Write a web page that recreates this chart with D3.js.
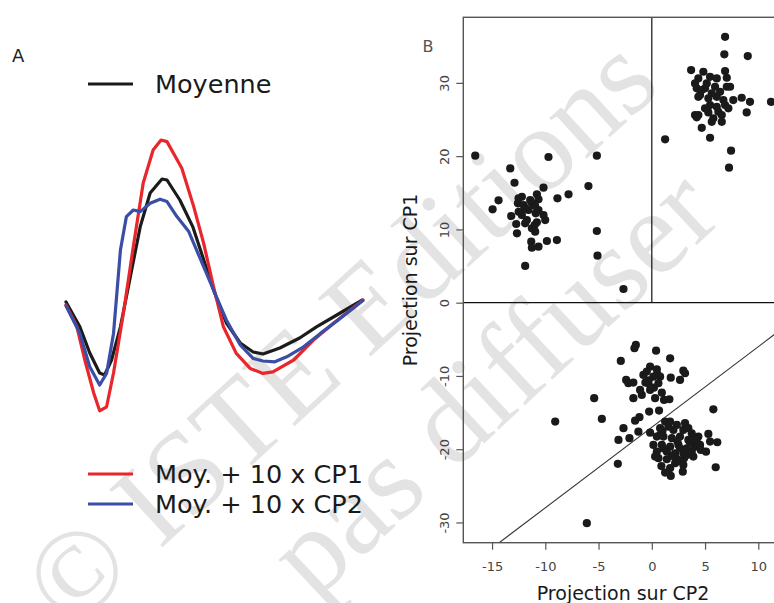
<!DOCTYPE html>
<html>
<head>
<meta charset="utf-8">
<script src="https://cdn.jsdelivr.net/npm/d3@7/dist/d3.min.js"></script>
<style>
  html, body { margin: 0; padding: 0; background: #fff; }
  svg { display: block; }
</style>
</head>
<body>
<svg id="fig" width="774" height="603"></svg>
<script>
// ---- Panel A: mean spike waveform and mean + 10 x principal components ----
const meanT = [0, 1.4, 2.4, 3.4, 3.9, 4.6, 5.5, 6.5, 7.5, 8.5, 9.7, 10.2, 11.5, 12.8, 13.8, 14.9, 16.2, 17.6, 18.9, 19.9, 21.6, 23.6, 25.3, 27.7, 29.9];
const meanV = [0.0, -1.24, -2.55, -3.55, -3.65, -2.9, -1.24, 1.27, 3.77, 5.45, 6.15, 6.1, 5.1, 3.77, 2.27, 0.6, -1.05, -2.05, -2.5, -2.6, -2.3, -1.8, -1.24, -0.55, 0.1];

const cp1T = [0, 1.1, 1.9, 2.8, 3.4, 4.1, 4.8, 5.8, 6.8, 7.8, 8.8, 9.6, 10.2, 11.7, 12.9, 13.9, 14.9, 15.9, 17.2, 18.6, 19.9, 20.9, 23.0, 25.0, 27.0, 28.7, 30.0];
const cp1V = [-0.15, -1.24, -2.9, -4.55, -5.44, -5.24, -3.55, -0.55, 2.77, 5.95, 7.6, 8.1, 8.02, 6.69, 4.77, 2.94, 0.77, -1.24, -2.57, -3.32, -3.57, -3.49, -2.9, -1.9, -1.07, -0.4, 0.1];

const cp2T = [0, 1.4, 2.4, 3.4, 4.1, 4.8, 5.5, 6.1, 6.8, 7.5, 8.5, 9.5, 10.2, 11.2, 12.4, 13.9, 14.9, 16.2, 17.6, 18.9, 19.9, 21.1, 22.3, 24.0, 25.7, 27.7, 30.0];
const cp2V = [-0.19, -1.57, -3.24, -4.15, -3.57, -1.57, 2.6, 4.27, 4.6, 4.52, 4.94, 5.14, 5.02, 4.27, 3.52, 1.77, 0.6, -0.9, -2.15, -2.82, -2.95, -2.99, -2.74, -2.24, -1.57, -0.82, 0.07];

const waveLabels = ["Moyenne", "Moy. + 10 x CP1", "Moy. + 10 x CP2"];
const waveColors = ["#1b1b1b", "#e8262b", "#3a4ea6"];

// ---- Panel B: projections of each spike on CP2 (x) and CP1 (y) ----
const scores = [
  // upper-left group
  [-16.58,20.06],[-9.70,19.88],[-5.16,20.06],[-13.29,18.33],[-12.89,16.37],[-5.95,15.92],[-10.17,15.69],
  [-7.82,14.79],[-8.86,14.24],[-14.39,13.97],[-14.95,12.74],[-12.51,14.24],[-12.2,14.46],[-10.79,14.79],
  [-10.64,14.11],[-12.57,13.56],[-12.04,13.33],[-11.26,13.56],[-10.95,13.19],[-11.58,12.65],[-10.64,12.65],
  [-12.2,11.96],[-13.2,11.83],[-10.17,11.96],[-11.89,10.83],[-10.79,10.97],[-10.01,11.28],[-12.73,10.74],
  [-11.26,10.15],[-12.66,9.47],[-10.95,9.69],[-11.32,8.32],[-9.85,8.42],[-8.91,8.55],[-11.26,7.50],
  [-10.64,7.64],[-5.16,9.78],[-5.10,6.41],[-11.89,5.01],[-11.42,14.01],[-11.73,11.28],[-2.66,1.87],
  [-11.9,12.9],[-10.9,12.2],[-12.5,12.4],[-11.0,10.6],
  // upper-right group
  [6.88,36.29],[6.81,33.89],[9.01,33.66],[3.69,31.75],[4.84,31.52],[6.88,31.61],[4.37,30.61],[5.47,30.83],
  [6.10,30.61],[7.04,30.70],[4.06,29.93],[5.16,29.93],[4.22,29.25],[5.0,29.25],[5.94,29.47],[7.04,29.47],
  [7.35,29.47],[4.53,28.34],[5.63,28.57],[4.37,28.1],[5.31,27.89],[6.1,28.1],[6.72,27.65],[7.65,27.65],
  [8.44,27.97],[9.22,27.42],[11.19,27.42],[8.91,25.97],[5.47,26.97],[6.10,26.74],[6.88,26.97],[4.37,25.61],
  [5.31,25.97],[5.78,25.16],[6.57,25.61],[5.63,24.69],[4.69,23.87],[5.47,22.51],[1.25,22.29],[7.44,20.74],
  [7.25,18.42],[6.25,26.06],[5.0,26.52],[7.19,26.52],[4.69,29.02],[6.41,28.79],[6.57,24.69],[4.06,25.61],
  [4.22,25.3],
  // lower group, upper part
  [-1.5,-5.77],[-1.63,-6.22],[0.4,-6.55],[-2.91,-7.95],[1.72,-7.59],[2.96,-9.28],[3.12,-9.63],[-0.16,-8.73],
  [-0.47,-9.41],[0.47,-9.09],[-0.79,-9.86],[0.15,-10.1],[0.78,-10.1],[1.78,-10.23],[2.65,-10.55],[-2.41,-10.55],
  [-2.2,-11.0],[-0.32,-11.0],[0.62,-11.0],[-1.1,-11.91],[-0.16,-11.91],[0.94,-12.28],[-0.94,-12.59],[-1.73,-13.04],
  [0.31,-13.04],[1.15,-13.27],[1.65,-13.18],[-5.41,-13.04],[-0.25,-14.87],[0.68,-14.73],[-1.16,-15.63],[-1.57,-16.1],
  [-4.69,-15.87],[-9.07,-16.23],[5.78,-14.55],[-2.66,-17.13],[-1.26,-17.6],[-3.13,-18.73],[-2.1,-18.5],[-0.16,-17.74],
  [-3.19,-22.0],[-6.1,-30.1],[-1.73,-10.91],[-0.3,-10.6],[0.2,-11.6],[0.5,-9.7],[-0.6,-10.9],
  // lower group, lower-right part
  [1.25,-16.23],[0.78,-17.13],[1.56,-16.92],[2.35,-16.68],[3.12,-16.45],[2.03,-17.37],[2.96,-17.37],[3.75,-17.82],
  [4.37,-18.28],[5.31,-17.91],[0.47,-18.28],[1.09,-18.28],[1.88,-18.5],[2.65,-18.28],[3.43,-18.73],[4.22,-18.96],
  [5.47,-18.96],[6.15,-19.05],[0.15,-19.41],[0.94,-19.41],[1.72,-19.65],[2.5,-19.41],[3.28,-19.87],[4.06,-19.65],
  [0.47,-20.33],[1.41,-20.33],[2.19,-20.55],[2.96,-20.55],[3.75,-20.33],[5.09,-20.33],[0.62,-21.23],[1.41,-21.37],
  [2.28,-21.23],[3.03,-21.23],[3.9,-21.0],[2.19,-21.91],[2.96,-22.14],[6.0,-22.46],[1.25,-23.19],[1.78,-23.64],
  [2.91,-23.06],[1.72,-22.59],[0.78,-18.05],[2.65,-19.87],[3.43,-17.13],[1.72,-16.23],[4.53,-19.41],[0.31,-21.0],
  [1.0,-17.5],[2.4,-18.9],[3.6,-19.2],[1.9,-20.9],[3.3,-20.8],[2.6,-21.6],[1.1,-19.9],[4.6,-20.1],[3.9,-18.5],[0.9,-22.3]
];

const xTicks = [-15, -10, -5, 0, 5, 10];
const yTicks = [-30, -20, -10, 0, 10, 20, 30];
const xDomain = [-17.7, 12.3];
const yDomain = [-32.76, 38.95];
// separating line drawn in the lower half: CP1 = slope * CP2 + intercept
const splitSlope = 1.1;
const splitIntercept = -17;

const svg = d3.select("#fig");
svg.append("rect").attr("width", 774).attr("height", 603).attr("fill", "#fff");

// background stamp
const stamp = svg.append("g")
  .attr("fill", "#e3e3e3")
  .attr("font-family", "'Liberation Serif', 'DejaVu Serif', serif")
  .attr("font-size", 120);
stamp.append("text").attr("transform", "translate(70,632) rotate(-42.5)").text("© ISTE Editions");
stamp.append("text").attr("transform", "translate(314,602) rotate(-43)").text("pas diffuser");

// ================= Panel A =================
const gA = svg.append("g");
const tScale = d3.scaleLinear().domain([0, 30]).range([66, 363]);
const vScale = d3.scaleLinear().domain([-6, 9]).range([422, 122]);

const waves = [
  { t: meanT, v: meanV, color: waveColors[0] },
  { t: cp1T, v: cp1V, color: waveColors[1] },
  { t: cp2T, v: cp2V, color: waveColors[2] }
];
const waveLine = d3.line().x(d => tScale(d[0])).y(d => vScale(d[1]));
gA.selectAll("path.wave")
  .data(waves)
  .join("path")
  .attr("class", "wave")
  .attr("d", w => waveLine(d3.zip(w.t, w.v)))
  .attr("fill", "none")
  .attr("stroke", w => w.color)
  .attr("stroke-width", 3.2)
  .attr("stroke-linejoin", "round")
  .attr("stroke-linecap", "round");

gA.append("text").attr("x", 12).attr("y", 62)
  .attr("font-family", "'DejaVu Sans', sans-serif").attr("font-size", 18).attr("fill", "#222").text("A");

// legend entries
const legendRows = [
  { label: waveLabels[0], color: waveColors[0], y: 84 },
  { label: waveLabels[1], color: waveColors[1], y: 474 },
  { label: waveLabels[2], color: waveColors[2], y: 504 }
];
const legendSize = 25.5;
const leg = gA.selectAll("g.leg").data(legendRows).join("g").attr("class", "leg");
leg.append("line")
  .attr("x1", 88).attr("x2", 133)
  .attr("y1", d => d.y).attr("y2", d => d.y)
  .attr("stroke", d => d.color).attr("stroke-width", 3);
leg.append("text")
  .attr("x", 155).attr("y", d => d.y + 0.729 * legendSize / 2)
  .attr("font-family", "'DejaVu Sans', sans-serif")
  .attr("font-size", legendSize)
  .attr("fill", "#1a1a1a")
  .text(d => d.label);

// ================= Panel B =================
const pLeft = 463.3, pRight = 782.8, pTop = 17.3, pBottom = 542.7;
const x = d3.scaleLinear().domain(xDomain).range([pLeft, pRight]);
const y = d3.scaleLinear().domain(yDomain).range([pBottom, pTop]);

const gB = svg.append("g");
gB.append("defs").append("clipPath").attr("id", "plotClip")
  .append("rect").attr("x", pLeft).attr("y", pTop).attr("width", pRight - pLeft).attr("height", pBottom - pTop);

const plot = gB.append("g").attr("clip-path", "url(#plotClip)");
// quadrant lines
plot.append("line")
  .attr("x1", pLeft).attr("x2", pRight).attr("y1", y(0)).attr("y2", y(0))
  .attr("stroke", "#111").attr("stroke-width", 1.2);
plot.append("line")
  .attr("x1", x(0)).attr("x2", x(0)).attr("y1", y(0)).attr("y2", pTop)
  .attr("stroke", "#111").attr("stroke-width", 1.2);
// separating line in the lower half
const xAtBottom = (yDomain[0] - splitIntercept) / splitSlope;
const xAtZero = (0 - splitIntercept) / splitSlope;
plot.append("line")
  .attr("x1", x(xAtBottom)).attr("y1", y(yDomain[0]))
  .attr("x2", x(xAtZero)).attr("y2", y(0))
  .attr("stroke", "#333").attr("stroke-width", 1.1);

plot.selectAll("circle")
  .data(scores)
  .join("circle")
  .attr("cx", d => x(d[0]))
  .attr("cy", d => y(d[1]))
  .attr("r", 4.1)
  .attr("fill", "#1a1a1a");

// frame
gB.append("rect")
  .attr("x", pLeft).attr("y", pTop).attr("width", pRight - pLeft).attr("height", pBottom - pTop)
  .attr("fill", "none").attr("stroke", "#555").attr("stroke-width", 1.4);

// axes
const fmt = d => d < 0 ? "-" + Math.abs(d) : String(d);
const xAxis = gB.append("g")
  .attr("transform", `translate(0,${pBottom})`)
  .call(d3.axisBottom(x).tickValues(xTicks).tickSize(7).tickPadding(12).tickFormat(fmt));
const yAxis = gB.append("g")
  .attr("transform", `translate(${pLeft},0)`)
  .call(d3.axisLeft(y).tickValues(yTicks).tickSize(7).tickFormat(fmt));
[xAxis, yAxis].forEach(a => {
  a.select(".domain").remove();
  a.selectAll(".tick line").attr("stroke", "#555").attr("stroke-width", 1.2);
  a.selectAll(".tick text")
    .attr("font-family", "'DejaVu Sans', sans-serif")
    .attr("font-size", 13)
    .attr("fill", "#444");
});
yAxis.selectAll(".tick text")
  .attr("x", null).attr("dy", null).attr("y", null)
  .attr("text-anchor", "middle")
  .attr("transform", "translate(-14,0) rotate(-90)");

gB.append("text")
  .attr("x", (pLeft + pRight) / 2).attr("y", 600)
  .attr("text-anchor", "middle")
  .attr("font-family", "'DejaVu Sans', sans-serif").attr("font-size", 19).attr("fill", "#1a1a1a")
  .text("Projection sur CP2");
gB.append("text")
  .attr("transform", `translate(417,${(pTop + pBottom) / 2}) rotate(-90)`)
  .attr("text-anchor", "middle")
  .attr("font-family", "'DejaVu Sans', sans-serif").attr("font-size", 19).attr("fill", "#1a1a1a")
  .text("Projection sur CP1");

gB.append("text").attr("x", 422.5).attr("y", 52)
  .attr("font-family", "'DejaVu Sans', sans-serif").attr("font-size", 16).attr("fill", "#555").text("B");
</script>
</body>
</html>
